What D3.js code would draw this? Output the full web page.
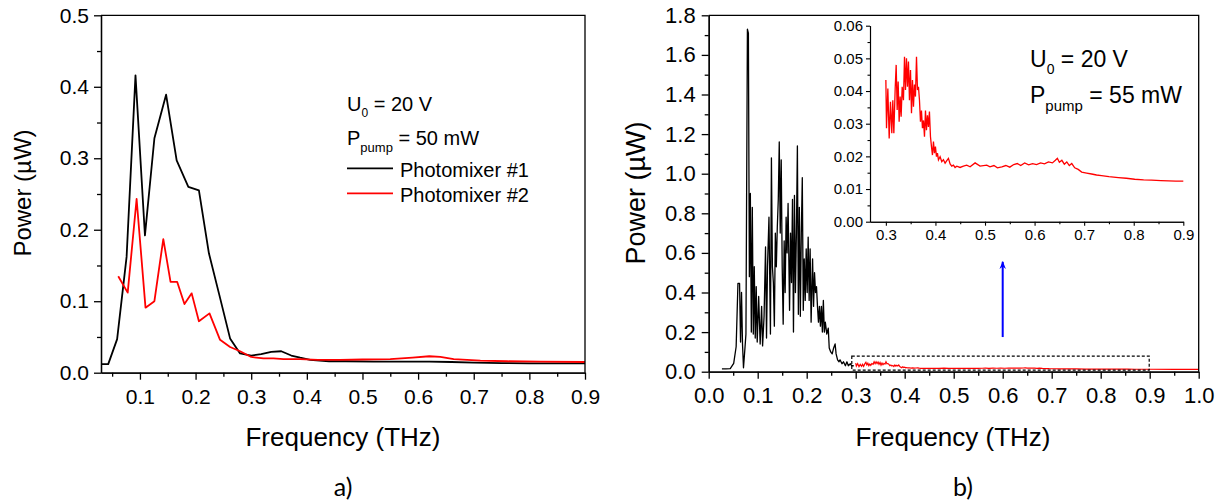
<!DOCTYPE html>
<html><head><meta charset="utf-8">
<script src="https://cdn.jsdelivr.net/npm/d3@7"></script>
<style>
body{margin:0;background:#fff}
svg{display:block}
text{font-family:"Liberation Sans",Arimo,Arial,Helvetica,sans-serif;fill:#000}
</style>
</head><body>
<svg id="c" width="1220" height="500"></svg>
<script>
// ---------- DATA ----------
// Panel a) : [frequency THz, power µW]
const photomixer1 = [[0.030,0.012],[0.043,0.012],[0.059,0.047],[0.076,0.162],[0.092,0.416],[0.109,0.192],[0.126,0.328],[0.147,0.389],[0.166,0.297],[0.187,0.260],[0.206,0.255],[0.224,0.167],[0.242,0.111],[0.262,0.048],[0.280,0.027],[0.300,0.024],[0.318,0.026],[0.336,0.029],[0.354,0.030],[0.372,0.024],[0.388,0.021],[0.406,0.018],[0.44,0.016],[0.47,0.016],[0.52,0.0155],[0.57,0.0155],[0.62,0.0155],[0.66,0.015],[0.70,0.014],[0.75,0.0135],[0.80,0.013],[0.85,0.013],[0.90,0.013]];
const photomixer2 = [[0.061,0.135],[0.078,0.112],[0.094,0.243],[0.110,0.091],[0.126,0.100],[0.142,0.187],[0.155,0.127],[0.167,0.127],[0.180,0.096],[0.193,0.111],[0.206,0.072],[0.225,0.083],[0.244,0.046],[0.262,0.036],[0.280,0.030],[0.300,0.022],[0.322,0.020],[0.340,0.020],[0.358,0.019],[0.388,0.019],[0.42,0.018],[0.46,0.018],[0.50,0.0185],[0.55,0.019],[0.59,0.021],[0.62,0.023],[0.64,0.022],[0.664,0.019],[0.712,0.017],[0.76,0.016],[0.82,0.0155],[0.90,0.015]];
const legendLabels = ["Photomixer #1","Photomixer #2"];

// Panel b) : black spectrum below 0.3 THz
const spectrumLow = [[0.027,0.014],[0.035,0.014],[0.044,0.016],[0.051,0.042],[0.056,0.126],[0.0597,0.446],[0.063,0.446],[0.065,0.15],[0.067,0.40],[0.069,0.14],[0.071,0.02],[0.074,0.12],[0.076,0.19],[0.079,1.73],[0.081,1.71],[0.083,0.48],[0.085,0.90],[0.087,0.20],[0.089,0.83],[0.091,0.19],[0.093,0.53],[0.095,0.17],[0.097,0.43],[0.099,0.15],[0.102,0.38],[0.105,0.14],[0.108,0.33],[0.110,0.13],[0.113,0.28],[0.116,0.63],[0.118,0.17],[0.120,0.53],[0.123,0.78],[0.126,0.19],[0.128,1.08],[0.130,0.53],[0.132,0.45],[0.134,0.23],[0.136,0.70],[0.138,0.53],[0.140,0.73],[0.142,0.87],[0.144,1.16],[0.146,0.70],[0.148,1.07],[0.150,0.53],[0.152,0.24],[0.154,0.66],[0.156,0.40],[0.158,0.78],[0.160,0.60],[0.162,0.85],[0.165,0.31],[0.167,0.70],[0.169,0.45],[0.171,0.87],[0.173,0.20],[0.175,0.89],[0.177,0.40],[0.179,0.70],[0.181,1.14],[0.183,0.29],[0.185,0.83],[0.187,0.28],[0.189,0.70],[0.191,0.98],[0.193,0.31],[0.195,0.57],[0.197,0.36],[0.199,0.62],[0.201,0.40],[0.203,0.68],[0.205,0.36],[0.207,0.62],[0.209,0.25],[0.212,0.57],[0.214,0.33],[0.216,0.50],[0.218,0.40],[0.220,0.43],[0.222,0.33],[0.224,0.25],[0.226,0.33],[0.228,0.23],[0.230,0.33],[0.232,0.20],[0.234,0.36],[0.236,0.20],[0.238,0.25],[0.241,0.19],[0.244,0.22],[0.246,0.12],[0.249,0.10],[0.252,0.09],[0.255,0.12],[0.258,0.14],[0.260,0.09],[0.263,0.06],[0.266,0.05],[0.268,0.06],[0.272,0.04],[0.275,0.05],[0.279,0.03],[0.282,0.05],[0.285,0.03],[0.289,0.04],[0.292,0.03],[0.296,0.03]];
// Panel b) : red spectrum above 0.3 THz (also shown in inset)
const spectrumHigh = [[0.3000,0.0434],[0.3013,0.0286],[0.3040,0.0408],[0.3067,0.0255],[0.3093,0.0367],[0.3120,0.0271],[0.3140,0.0372],[0.3161,0.0271],[0.3188,0.0408],[0.3208,0.0480],[0.3228,0.0342],[0.3248,0.0429],[0.3268,0.0306],[0.3288,0.0383],[0.3308,0.0321],[0.3329,0.0413],[0.3355,0.0372],[0.3376,0.0505],[0.3396,0.0403],[0.3416,0.0500],[0.3436,0.0413],[0.3456,0.0490],[0.3476,0.0372],[0.3497,0.0464],[0.3517,0.0332],[0.3537,0.0434],[0.3557,0.0352],[0.3577,0.0420],[0.3597,0.0383],[0.3618,0.0505],[0.3638,0.0403],[0.3658,0.0413],[0.3678,0.0372],[0.3698,0.0306],[0.3718,0.0340],[0.3738,0.0286],[0.3759,0.0310],[0.3779,0.0260],[0.3799,0.0340],[0.3819,0.0280],[0.3839,0.0326],[0.3859,0.0290],[0.3879,0.0337],[0.3900,0.0260],[0.3920,0.0230],[0.3940,0.0204],[0.3960,0.0245],[0.3980,0.0210],[0.4000,0.0230],[0.4021,0.0199],[0.4041,0.0210],[0.4061,0.0189],[0.4094,0.0199],[0.4128,0.0184],[0.4161,0.0190],[0.4195,0.0179],[0.4229,0.0187],[0.4262,0.0194],[0.4296,0.0177],[0.4329,0.0170],[0.4363,0.0173],[0.4396,0.0166],[0.4430,0.0170],[0.4497,0.0166],[0.4564,0.0170],[0.4631,0.0173],[0.4699,0.0168],[0.4800,0.0180],[0.4900,0.0170],[0.5035,0.0173],[0.510,0.0168],[0.518,0.0172],[0.525,0.0165],[0.534,0.0168],[0.542,0.0172],[0.550,0.0167],[0.558,0.0175],[0.565,0.0178],[0.572,0.0172],[0.580,0.0180],[0.588,0.0174],[0.596,0.0178],[0.604,0.0175],[0.612,0.0180],[0.620,0.0177],[0.628,0.0183],[0.636,0.0180],[0.642,0.0188],[0.646,0.0194],[0.650,0.0182],[0.655,0.0188],[0.660,0.0176],[0.665,0.0183],[0.670,0.0172],[0.675,0.0178],[0.681,0.0165],[0.688,0.0160],[0.695,0.0152],[0.705,0.0149],[0.715,0.0146],[0.725,0.0143],[0.735,0.0141],[0.750,0.0138],[0.769,0.0135],[0.785,0.0133],[0.802,0.0130],[0.820,0.0128],[0.836,0.0127],[0.855,0.0126],[0.870,0.0125],[0.885,0.0124],[0.900,0.0124],[0.950,0.0122],[1.000,0.0121]];

// tick values
const aXTicks = [0.1,0.2,0.3,0.4,0.5,0.6,0.7,0.8,0.9];
const aXMinor = [0.05,0.15,0.25,0.35,0.45,0.55,0.65,0.75,0.85];
const aYTicks = [0,0.1,0.2,0.3,0.4,0.5];
const aYMinor = [0.05,0.15,0.25,0.35,0.45];
const bXTicks = [0,0.1,0.2,0.3,0.4,0.5,0.6,0.7,0.8,0.9,1.0];
const bXMinor = [0.05,0.15,0.25,0.35,0.45,0.55,0.65,0.75,0.85,0.95];
const bYTicks = [0,0.2,0.4,0.6,0.8,1.0,1.2,1.4,1.6,1.8];
const bYMinor = [0.1,0.3,0.5,0.7,0.9,1.1,1.3,1.5,1.7];
const inXTicks = [0.3,0.4,0.5,0.6,0.7,0.8,0.9];
const inXMinor = [0.35,0.45,0.55,0.65,0.75,0.85];
const inYTicks = [0,0.01,0.02,0.03,0.04,0.05,0.06];
const inYMinor = [0.005,0.015,0.025,0.035,0.045,0.055];
// arrow & zoom box (data units of panel b)
const arrowFreq = 0.6, arrowFrom = 0.175, arrowTo = 0.555;
const zoomBox = {f0:0.292, f1:0.899, p0:0.008, p1:0.079};

// ---------- DRAW ----------
const svg = d3.select("#c");
const FONT = '"Liberation Sans",Arimo,Arial,Helvetica,sans-serif';

function drawAxes(g, x, y, o){
  g.append("g").attr("transform",`translate(${x.range()[0]},0)`)
    .call(d3.axisLeft(y).tickValues(o.yT).tickFormat(d3.format(o.yF)).tickSize(o.ts).tickPadding(o.yp).tickSizeOuter(0));
  g.append("g").attr("transform",`translate(${x.range()[0]},0)`)
    .call(d3.axisLeft(y).tickValues(o.yM).tickFormat("").tickSize(o.ms).tickSizeOuter(0));
  g.append("g").attr("transform",`translate(0,${y.range()[0]})`)
    .call(d3.axisBottom(x).tickValues(o.xT).tickFormat(d3.format(".1f")).tickSize(o.ts).tickPadding(o.xp).tickSizeOuter(0));
  g.append("g").attr("transform",`translate(0,${y.range()[0]})`)
    .call(d3.axisBottom(x).tickValues(o.xM).tickFormat("").tickSize(o.ms).tickSizeOuter(0));
  g.selectAll(".tick text").attr("font-size",o.fs).style("font-family",FONT).attr("fill","#000");
  g.selectAll(".domain, .tick line").attr("stroke","#000").attr("stroke-width",o.sw);
  if(o.box){
    g.append("path").attr("fill","none").attr("stroke","#000").attr("stroke-width",o.sw)
      .attr("d",`M${x.range()[0]},${y.range()[1]}H${x.range()[1]}V${y.range()[0]}`);
  }
}

// Panel a
const xA = d3.scaleLinear([0.03,0.9],[101,585]);
const yA = d3.scaleLinear([0,0.5],[372.7,15.3]);
const gA = svg.append("g");
const lineA = d3.line().x(d=>xA(d[0])).y(d=>yA(d[1]));
gA.append("path").datum(photomixer1).attr("d",lineA).attr("fill","none").attr("stroke","#000").attr("stroke-width",1.8).attr("stroke-linejoin","round");
gA.append("path").datum(photomixer2).attr("d",lineA).attr("fill","none").attr("stroke","#ff0000").attr("stroke-width",1.8).attr("stroke-linejoin","round");
drawAxes(gA,xA,yA,{yT:aYTicks,yM:aYMinor,xT:aXTicks,xM:aXMinor,yF:".1f",ts:7,ms:4,yp:5,xp:9,fs:21,sw:1.3,box:true});

gA.append("text").attr("transform","translate(31,193) rotate(-90)").attr("text-anchor","middle").attr("font-size",24).text("Power (µW)");
gA.append("text").attr("x",343).attr("y",446).attr("text-anchor","middle").attr("font-size",26).text("Frequency (THz)");
gA.append("text").attr("x",343).attr("y",496).attr("text-anchor","middle").attr("font-size",25).style("font-family","Lato, 'Open Sans', sans-serif").text("a)");

let t = gA.append("text").attr("x",347).attr("y",111).attr("font-size",20);
t.append("tspan").text("U");
t.append("tspan").attr("dy",6).attr("font-size",12).text("0");
t.append("tspan").attr("dy",-6).text(" = 20 V");
t = gA.append("text").attr("x",347).attr("y",145).attr("font-size",20);
t.append("tspan").text("P");
t.append("tspan").attr("dy",7).attr("font-size",13).text("pump");
t.append("tspan").attr("dy",-7).text(" = 50 mW");
const legColors = ["#000","#ff0000"];
legendLabels.forEach((lab,i)=>{
  const yy = 168.3 + i*25;
  gA.append("line").attr("x1",347).attr("x2",393).attr("y1",yy).attr("y2",yy).attr("stroke",legColors[i]).attr("stroke-width",1.8);
  gA.append("text").attr("x",400).attr("y",yy+8.6).attr("font-size",20).text(lab);
});

// Panel b
const xB = d3.scaleLinear([0,1],[708.7,1198.7]);
const yB = d3.scaleLinear([0,1.8],[371.7,15.3]);
const gB = svg.append("g");
const lineB = d3.line().x(d=>xB(d[0])).y(d=>yB(d[1]));
gB.append("path").datum(spectrumLow).attr("d",lineB).attr("fill","none").attr("stroke","#000").attr("stroke-width",1.3).attr("stroke-linejoin","round");
gB.append("path").datum(spectrumHigh).attr("d",lineB).attr("fill","none").attr("stroke","#ff0000").attr("stroke-width",1.2);
drawAxes(gB,xB,yB,{yT:bYTicks,yM:bYMinor,xT:bXTicks,xM:bXMinor,yF:".1f",ts:7,ms:4,yp:6,xp:9,fs:22,sw:1.3,box:true});

gB.append("rect").attr("x",xB(zoomBox.f0)).attr("y",yB(zoomBox.p1))
  .attr("width",xB(zoomBox.f1)-xB(zoomBox.f0)).attr("height",yB(zoomBox.p0)-yB(zoomBox.p1))
  .attr("fill","none").attr("stroke","#000").attr("stroke-width",1.2).attr("stroke-dasharray","3,2");

svg.append("defs").append("marker").attr("id","ah").attr("viewBox","0 0 10 10").attr("refX",9).attr("refY",5)
  .attr("markerWidth",4).attr("markerHeight",4).attr("orient","auto")
  .append("path").attr("d","M0,1L10,5L0,9L3,5Z").attr("fill","#0000ff");
gB.append("line").attr("x1",xB(arrowFreq)).attr("x2",xB(arrowFreq)).attr("y1",yB(arrowFrom)).attr("y2",yB(arrowTo))
  .attr("stroke","#0000ff").attr("stroke-width",2).attr("marker-end","url(#ah)");

gB.append("text").attr("transform","translate(645,193) rotate(-90)").attr("text-anchor","middle").attr("font-size",27).text("Power (µW)");
gB.append("text").attr("x",953).attr("y",446).attr("text-anchor","middle").attr("font-size",26).text("Frequency (THz)");
gB.append("text").attr("x",963).attr("y",496).attr("text-anchor","middle").attr("font-size",25).style("font-family","Lato, 'Open Sans', sans-serif").text("b)");

// Inset
const xI = d3.scaleLinear([0.268,0.9],[870,1183.3]);
const yI = d3.scaleLinear([0,0.06],[221.7,25.7]);
const gI = svg.append("g");
const lineI = d3.line().x(d=>xI(d[0])).y(d=>yI(d[1]));
gI.append("path").datum(spectrumHigh.filter(d=>d[0]>=0.3 && d[0]<=0.9)).attr("d",lineI).attr("fill","none").attr("stroke","#ff0000").attr("stroke-width",1.3);
drawAxes(gI,xI,yI,{yT:inYTicks,yM:inYMinor,xT:inXTicks,xM:inXMinor,yF:".2f",ts:4,ms:2.5,yp:3,xp:4,fs:15,sw:1.1,box:false});

t = gI.append("text").attr("x",1030).attr("y",66.5).attr("font-size",23);
t.append("tspan").text("U");
t.append("tspan").attr("dy",7).attr("font-size",14).text("0");
t.append("tspan").attr("dy",-7).text(" = 20 V");
t = gI.append("text").attr("x",1030).attr("y",102.5).attr("font-size",23);
t.append("tspan").text("P");
t.append("tspan").attr("dy",8).attr("font-size",15).text("pump");
t.append("tspan").attr("dy",-8).text(" = 55 mW");
</script>
</body></html>
